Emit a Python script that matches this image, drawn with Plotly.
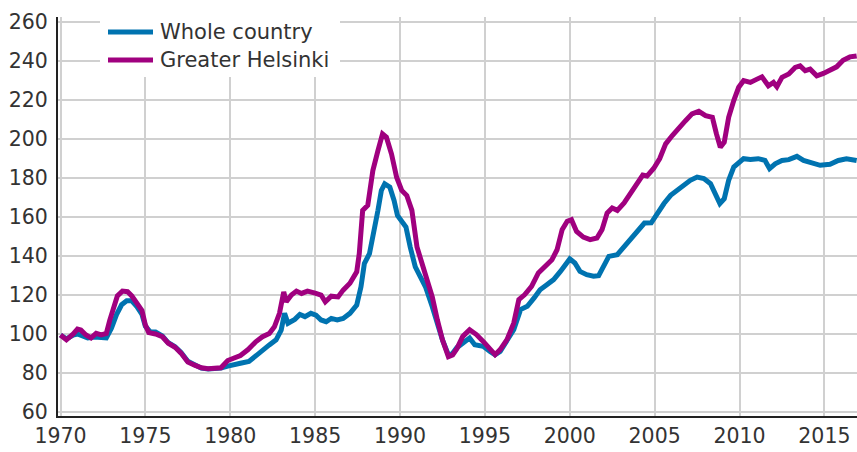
import plotly.graph_objects as go

series_names = ["Whole country", "Greater Helsinki"]
colors = ["#0073B0", "#A0007F"]

years_country = [1970.0, 1970.35, 1970.75, 1971.0, 1971.3, 1971.6, 1972.0, 1972.4, 1972.7, 1973.0,
                 1973.3, 1973.6, 1973.9, 1974.2, 1974.5, 1974.8, 1975.0, 1975.3, 1975.6, 1976.0,
                 1976.35, 1976.75, 1977.1, 1977.5, 1977.9, 1978.3, 1978.7, 1979.1, 1979.45, 1979.85,
                 1980.25, 1980.6, 1981.1, 1981.5, 1981.9, 1982.3, 1982.7, 1983.0, 1983.2, 1983.4,
                 1983.8, 1984.1, 1984.4, 1984.75, 1985.05, 1985.35, 1985.65, 1985.95, 1986.3, 1986.65,
                 1987.05, 1987.45, 1987.7, 1987.9, 1988.2, 1988.45, 1988.7, 1988.9, 1989.1, 1989.4,
                 1989.65, 1989.85, 1990.1, 1990.35, 1990.6, 1990.9, 1991.2, 1991.5, 1991.9, 1992.2,
                 1992.5, 1992.85, 1993.1, 1993.35, 1993.7, 1994.1, 1994.4, 1994.9, 1995.3, 1995.6,
                 1995.9, 1996.3, 1996.7, 1997.1, 1997.5, 1997.9, 1998.25, 1998.65, 1999.05, 1999.45,
                 1999.75, 2000.0, 2000.3, 2000.6, 2001.0, 2001.4, 2001.7, 2002.0, 2002.3, 2002.8,
                 2003.2, 2003.6, 2004.0, 2004.4, 2004.8, 2005.2, 2005.55, 2005.94, 2006.33, 2006.72,
                 2007.1, 2007.5, 2007.9, 2008.29, 2008.58, 2008.84, 2009.1, 2009.36, 2009.66, 2009.95,
                 2010.24, 2010.64, 2011.1, 2011.5, 2011.77, 2012.1, 2012.5, 2012.9, 2013.38, 2013.77,
                 2014.16, 2014.75, 2015.33, 2015.82, 2016.3, 2016.9]
values_country = [99.5, 97.5, 99.5, 100, 99, 98, 98.5, 98.5, 98, 103,
                  110, 115, 117, 117, 114, 110, 104, 101, 101, 99,
                  95.5, 93.5, 90.5, 86, 84, 82.5, 82, 82, 82.5, 83.5,
                  84.5, 85, 85.9, 89, 92, 94.4, 97, 102, 110.6, 105.5,
                  107.5, 110, 108.9, 110.6, 109.7, 107.2, 106.3, 108, 107.2, 108,
                  110.6, 114.8, 124.2, 136.1, 141.2, 151.4, 163.4, 173.6, 177, 175.3,
                  168.5, 160.8, 158.3, 154.9, 144.6, 134.4, 129.3, 124.2, 114, 105.5,
                  97, 89.3, 90.1, 93, 95.4, 97.9, 94.5, 93.7, 91.1, 89.4,
                  91.1, 96.2, 102.2, 112.5, 114.2, 118.5, 122.7, 125.3, 127.9, 132.1,
                  135.6, 138.5, 136.4, 132.1, 130.4, 129.6, 129.9, 135.6, 139.8, 140.7,
                  145, 149.2, 152.6, 156.9, 157, 162.5, 166.9, 171.1, 173.7, 176.8,
                  178.8, 180.5, 179.7, 177.1, 172, 166.9, 169.4, 178.8, 185.6, 188.2,
                  189.9, 189.5, 189.9, 189, 184.8, 187.3, 189, 189.4, 191.1, 189,
                  188.2, 186.5, 187, 189, 189.9, 189]

years_helsinki = [1970.0, 1970.35, 1970.75, 1971.0, 1971.2, 1971.5, 1971.8, 1972.1, 1972.4, 1972.7,
                  1972.9, 1973.1, 1973.35, 1973.65, 1973.95, 1974.2, 1974.5, 1974.8, 1975.0, 1975.2,
                  1975.6, 1976.0, 1976.35, 1976.75, 1977.1, 1977.5, 1977.9, 1978.3, 1978.7, 1979.1,
                  1979.45, 1979.85, 1980.25, 1980.6, 1981.05, 1981.5, 1981.9, 1982.3, 1982.6, 1982.9,
                  1983.15, 1983.3, 1983.6, 1983.9, 1984.2, 1984.55, 1985.0, 1985.35, 1985.6, 1985.95,
                  1986.35, 1986.65, 1987.05, 1987.45, 1987.6, 1987.8, 1988.1, 1988.4, 1988.7, 1988.97,
                  1989.2, 1989.5, 1989.8, 1990.1, 1990.4, 1990.7, 1991.0, 1991.3, 1991.6, 1991.9,
                  1992.2, 1992.5, 1992.85, 1993.1, 1993.35, 1993.7, 1994.1, 1994.5, 1994.9, 1995.3,
                  1995.6, 1995.9, 1996.3, 1996.7, 1997.0, 1997.35, 1997.75, 1998.15, 1998.55, 1998.95,
                  1999.25, 1999.55, 1999.85, 2000.1, 2000.4, 2000.8, 2001.2, 2001.6, 2001.9, 2002.2,
                  2002.5, 2002.8, 2003.2, 2003.6, 2004.0, 2004.3, 2004.55, 2004.95, 2005.3, 2005.65,
                  2006.04, 2006.43, 2006.82, 2007.2, 2007.6, 2008.0, 2008.4, 2008.64, 2008.87, 2009.1,
                  2009.36, 2009.66, 2009.95, 2010.24, 2010.64, 2011.03, 2011.32, 2011.7, 2012.0, 2012.2,
                  2012.5, 2012.9, 2013.28, 2013.57, 2013.87, 2014.16, 2014.55, 2014.94, 2015.33, 2015.72,
                  2016.1, 2016.5, 2016.9]
values_helsinki = [99.5, 97, 100, 102.5, 102, 99.5, 98, 100.3, 99.5, 100.3,
                   107, 113.6, 119.5, 122, 121.7, 119.5, 116, 112, 104.6, 100.7,
                   100, 98.6, 95.3, 93.2, 90.2, 85.6, 84, 82.7, 82.2, 82.2,
                   82.7, 86.4, 88, 89, 92, 96, 98.6, 100.3, 103.7, 110.6,
                   121.6, 116.5, 120, 122, 120.8, 122, 121, 120, 116.5, 119.4,
                   119, 122.5, 126, 131.9, 141.2, 163.4, 166, 183.8, 194, 202.6,
                   200.9, 192.3, 180.4, 173.6, 171, 163.4, 144.6, 136, 129.3, 119,
                   107.2, 97, 88.4, 89.3, 92.5, 98.8, 102.2, 99.7, 96.2, 92,
                   89.4, 92, 97.1, 105.6, 117.6, 120.2, 124.4, 131.3, 134.7, 138.1,
                   143.2, 153.5, 157.8, 158.6, 152.6, 149.7, 148.4, 149.2, 153.5, 162,
                   164.6, 163.4, 167.2, 172.3, 176.6, 181.5, 181, 185, 190, 197.5,
                   201.8, 206, 209.4, 212.9, 214.2, 212, 211.1, 202.6, 195.8, 198.4,
                   211.1, 219.7, 226.5, 229.9, 229, 230.7, 231.9, 227.3, 229, 226.8,
                   231.6, 233.3, 236.7, 237.5, 235, 235.8, 232.4, 233.6, 235, 237,
                   240.4, 242.1, 242.6]

x_ticks = [1970, 1975, 1980, 1985, 1990, 1995, 2000, 2005, 2010, 2015]
y_ticks = [60, 80, 100, 120, 140, 160, 180, 200, 220, 240, 260]

FONT = "DejaVu Sans"
W, H = 857, 452
ML, MR, MT, MB = 58, 0, 17, 36
PW, PH = W - ML - MR, H - MT - MB

fig = go.Figure()
for xs, ys, name, col in [(years_country, values_country, series_names[0], colors[0]),
                          (years_helsinki, values_helsinki, series_names[1], colors[1])]:
    fig.add_trace(go.Scatter(x=xs, y=ys, mode="lines", name=name,
                             line=dict(color=col, width=5), showlegend=False,
                             hoverinfo="skip"))

def px(xp):
    return (xp - ML) / PW

def py(yp):
    return 1 - (yp - MT) / PH

shapes = [dict(type="rect", xref="paper", yref="paper", x0=px(100), x1=px(340),
               y0=py(77), y1=py(14), fillcolor="white", line=dict(width=0), layer="above")]
annotations = []
for i, (name, col) in enumerate(zip(series_names, colors)):
    yy = 32 + 28 * i
    shapes.append(dict(type="line", xref="paper", yref="paper", x0=px(108), x1=px(153),
                       y0=py(yy), y1=py(yy), line=dict(color=col, width=5), layer="above"))
    annotations.append(dict(xref="paper", yref="paper", x=px(158), y=py(yy), text=name,
                            showarrow=False, xanchor="left", yanchor="middle",
                            font=dict(family=FONT, size=21, color="#333333")))

fig.update_layout(
    width=W, height=H,
    margin=dict(l=ML, r=MR, t=MT, b=MB, pad=0, autoexpand=False),
    plot_bgcolor="white", paper_bgcolor="white",
    shapes=shapes, annotations=annotations,
    font=dict(family=FONT, size=20.5, color="#333333"),
)
fig.update_xaxes(range=[1969.853, 2016.92], tickvals=x_ticks, ticktext=[str(t) for t in x_ticks],
                 showgrid=True, gridcolor="#d0d0d0", gridwidth=2, automargin=False,
                 showline=True, linecolor="#222222", linewidth=2, ticks="", ticklabelstandoff=0,
                 zeroline=False, tickfont=dict(family=FONT, size=20.5, color="#333333"))
fig.update_yaxes(range=[57.95, 262.56], tickvals=y_ticks, ticktext=[str(t) for t in y_ticks],
                 showgrid=True, gridcolor="#d0d0d0", gridwidth=2, automargin=False,
                 showline=True, linecolor="#222222", linewidth=2, ticks="", ticklabelstandoff=4,
                 zeroline=False, tickfont=dict(family=FONT, size=20.5, color="#333333"))

fig.write_html("out.html", config={"displayModeBar": False},
               post_script="document.body.style.margin='0px';document.body.style.overflow='hidden';")
